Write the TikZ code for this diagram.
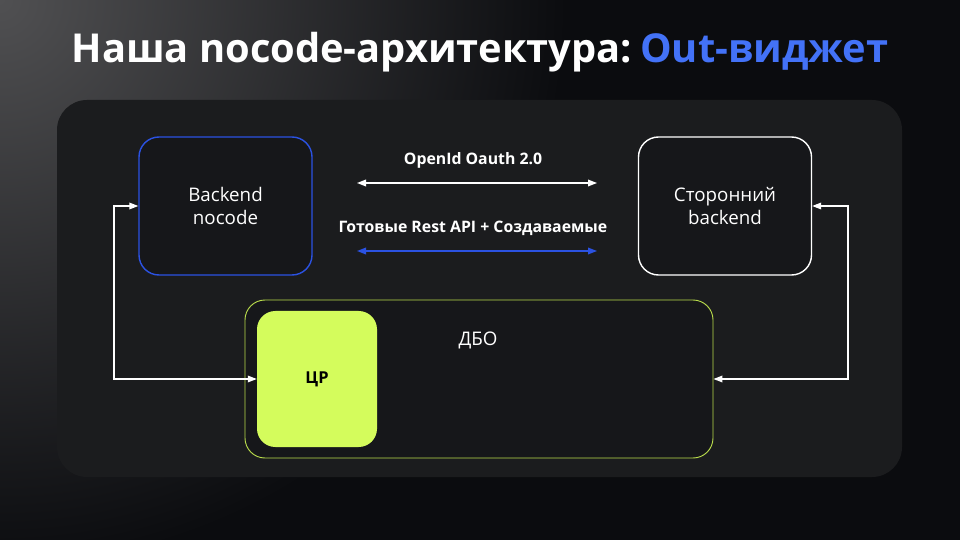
\documentclass[tikz,border=0pt]{standalone}
\usepackage{fontspec}
\setmainfont{Open Sans}
\usetikzlibrary{arrows.meta,positioning,calc}
\definecolor{sl-bg}{HTML}{0B0C0F}
\definecolor{sl-glow}{HTML}{505052}
\definecolor{sl-panel}{HTML}{1B1C1E}
\definecolor{sl-box}{HTML}{16171A}
\definecolor{sl-blue}{HTML}{2B52E2}
\definecolor{sl-title}{HTML}{4372F7}
\definecolor{sl-lime}{HTML}{D4FC5C}
\definecolor{sl-limeline}{HTML}{B9DC4C}

\tikzset{
  srvbox/.style={draw, line width=1.2pt, rounded corners=0.6cm, fill=sl-box,
    minimum width=5.19cm, minimum height=4.14cm, align=center, text=white,
    font=\fontsize{16}{19}\selectfont},
  dbobox/.style={draw=sl-limeline, line width=0.8pt, rounded corners=0.6cm,
    fill=sl-box, minimum width=14.04cm, minimum height=4.74cm},
  crbox/.style={fill=sl-lime, rounded corners=0.55cm, minimum width=3.6cm,
    minimum height=4.08cm, text=black, font=\bfseries\fontsize{14}{17}\selectfont},
  link/.style={line width=1.1pt,
    {Triangle[length=0.27cm,width=0.2cm]}-{Triangle[length=0.27cm,width=0.2cm]}},
  linklabel/.style={text=white, font=\bfseries\fontsize{13.5}{16}\selectfont},
}

\begin{document}
\begin{tikzpicture}[x=0.03cm, y=-0.03cm]

    % Фон со свечением в левом верхнем углу
    \fill[sl-bg] (0,0) rectangle (960,540);
    \begin{scope}
        \clip (0,0) rectangle (960,540);
        \shade[inner color=sl-glow, outer color=sl-bg] (0,0) circle (17cm);
    \end{scope}
    \useasboundingbox (0,0) rectangle (960,540);

    % Заголовок
    \node[anchor=base, text=white, font=\bfseries\fontsize{34}{40}\selectfont] (title) at (480,63)
        {Наша nocode-архитектура:\hspace{0.2em}\textcolor{sl-title}{Out-виджет}};

    % Подложка
    \fill[sl-panel, rounded corners=0.9cm] (57,100) rectangle (902,477);

    % Бэкенды
    \node[srvbox, draw=sl-blue] (bn) at (225.5,206) {Backend\\nocode};
    \node[srvbox, draw=white] (sb) at (725,206) {Сторонний\\backend};

    % ДБО и ЦР
    \node[dbobox] (dbo) at (479,379) {};
    \node[text=white, font=\fontsize{16}{19}\selectfont] (dbo-t) at (478,340) {ДБО};
    \node[crbox] (cr) at (317,379) {ЦР};

    % Протоколы между бэкендами
    \coordinate (oa-l) at (357,183);
    \coordinate (oa-r) at (597,183);
    \draw[link, white] (oa-l) -- (oa-r);
    \node[linklabel] (oa-t) at (473,160) {OpenId Oauth 2.0};

    \coordinate (api-l) at (357,251);
    \coordinate (api-r) at (597,251);
    \draw[link, sl-blue] (api-l) -- (api-r);
    \node[linklabel] (api-t) at (473,228) {Готовые Rest API + Создаваемые};

    % Связи с ДБО
    \coordinate (lft) at (114,206);
    \draw[link, white] (bn.west) -- (lft) |- (cr.west);
    \coordinate (rgt) at (848,206);
    \draw[link, white] (sb.east) -- (rgt) |- (dbo.east);

\end{tikzpicture}
\end{document}
